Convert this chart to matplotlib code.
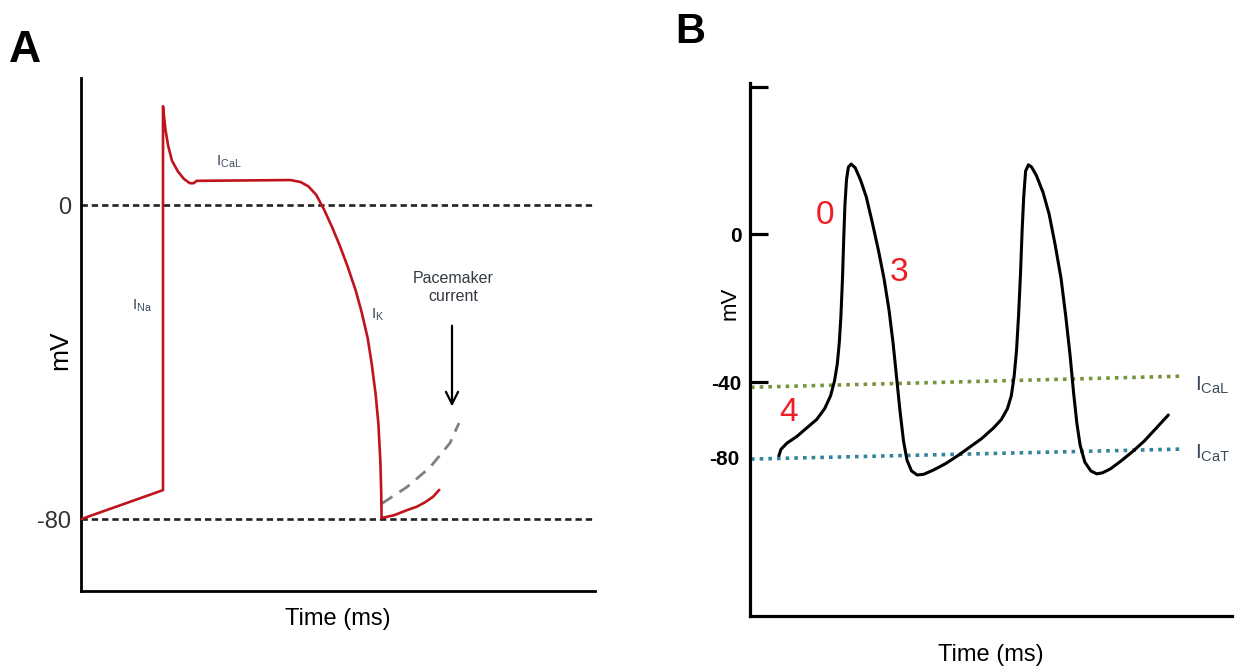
import matplotlib
matplotlib.use("Agg")
import matplotlib.pyplot as plt

plt.rcParams['font.family'] = ['Liberation Sans', 'DejaVu Sans']

# ---- panel A: ventricular action potential (t in ms-like units, v in mV)
a_t = [0, 82, 82, 84.3, 87.1, 91, 96.9, 102.9, 108.8, 112.8, 115.5, 209.6, 219.5, 227.4, 235.3,
       243.2, 251.1, 259.1, 267, 274.9, 280.8, 286.7, 290.7, 294.6, 297.4, 299.4, 300.2, 300.6,
       313, 326, 336, 344, 352, 358]
a_v = [-80, -72.6, 25.2, 19.5, 15.2, 11.3, 8.6, 6.7, 5.6, 5.6, 6.2, 6.4, 5.9, 4.8, 2.6,
       -1.2, -5.6, -10.5, -15.9, -21.9, -27.4, -33.9, -40.4, -48.1, -55.7, -65.5, -73.1, -79.7,
       -79, -77.7, -76.8, -75.7, -74.3, -72.6]
pace_t = [301, 326, 349, 369, 378]
pace_v = [-76, -71.8, -66.8, -60.6, -55.5]
a_ref = [0, -80]
a_ticklabels = ['0', '-80']

# ---- panel B: pacemaker (SA node) action potentials
b_t = [28.9, 30.9, 36.9, 46.8, 56.7, 66.7, 74.6, 80.6, 84.5, 87.3, 89.3, 90.9, 92.5, 93.7, 94.9,
       96.5, 98.4, 101.2, 105.2, 110.4, 116.3, 122.3, 128.5, 134, 139, 143, 146.5, 150, 153.5, 157,
       161.5, 167.2, 173.9, 183.9, 195.8, 207.7, 219.6, 231.5, 243.5, 251.4, 257.4, 261.3, 264.1,
       266.5, 268.5, 270.5, 272.1, 273.7, 275.6, 278.4, 281.6, 286.4, 293.1, 299.1, 305, 311,
       315.8, 320.1, 323.7, 326.9, 330.1, 334.8, 340.8, 346.8, 352.7, 360.7, 370.6, 382.5, 394.4,
       406.4, 418.3]
b_v = [-59.9, -58.2, -56.5, -54.7, -52.4, -50.1, -47.2, -43.7, -39.7, -35.1, -29.3, -22.3, -11.9,
       -1.5, 7.7, 14.7, 18.1, 18.9, 17.9, 14.7, 10.0, 3.1, -4.5, -12.0, -20.5, -29.3, -38.5, -47.8,
       -55.9, -61.1, -64.0, -65.1, -64.9, -63.7, -62.0, -59.9, -57.6, -55.3, -52.4, -50.1, -47.2,
       -43.7, -38.5, -31.6, -22.3, -10.8, 0.8, 10.0, 17.0, 18.7, 18.1, 15.8, 11.2, 5.4, -2.7, -11.9,
       -22.3, -32.8, -43.2, -51.2, -57.0, -61.6, -64.0, -64.8, -64.5, -63.4, -61.4, -58.8, -55.9,
       -52.4, -48.9]
cal_t, cal_v = [1, 432], [-41.4, -38.4]
cat_t, cat_v = [1, 432], [-60.8, -58.1]
b_ticks = [39.7, 0, -40]
b_ticklabels = ['', '0', '-40']
b_m80 = -60.3

W, H = 1243, 671
fig = plt.figure(figsize=(W / 100, H / 100), dpi=100)

def add_ax(l, t, r, b):
    return fig.add_axes([l / W, 1 - b / H, (r - l) / W, (b - t) / H])

red = '#c0141c'
lab = '#3c4a5c'

# ----- A
ax = add_ax(81, 78, 595, 591)
ax.set_xlim(0, 514)
ax.set_ylim(-98.3, 32.4)
for s in ['top', 'right']:
    ax.spines[s].set_visible(False)
for s in ['left', 'bottom']:
    ax.spines[s].set_linewidth(2.0)
ax.set_xticks([])
ax.set_yticks(a_ref)
ax.set_yticklabels(a_ticklabels, fontsize=17, color='#333333')
ax.tick_params(axis='y', length=0, pad=7)
for v in a_ref:
    ax.axhline(v, color='#222222', lw=1.9, ls=(0, (2.4, 1.5)), zorder=1)
ax.plot(a_t, a_v, color=red, lw=1.9, zorder=3, solid_joinstyle='round')
ax.plot(pace_t, pace_v, color='#808080', lw=2.0, ls=(0, (4.5, 3)), zorder=2)
ax.annotate('', xy=(371, -52), xytext=(371, -30),
            arrowprops=dict(arrowstyle='->', color='black', lw=1.6, mutation_scale=22))
ax.text(372, -21, 'Pacemaker\ncurrent', ha='center', va='center', fontsize=11.5,
        color='#333a44', linespacing=1.25)
ax.text(61, -25.7, r'$\mathregular{I_{Na}}$', ha='center', va='center', fontsize=11, color=lab)
ax.text(148, 11, r'$\mathregular{I_{CaL}}$', ha='center', va='center', fontsize=11, color=lab)
ax.text(297, -28, r'$\mathregular{I_{K}}$', ha='center', va='center', fontsize=11, color=lab)
ax.set_xlabel('Time (ms)', fontsize=17, labelpad=12)
ax.set_ylabel('mV', fontsize=19)
ax.yaxis.set_label_coords(-0.018, 0.47)
fig.text(25 / W, 1 - 51 / H, 'A', fontsize=32, fontweight='bold', ha='center', va='center')

# ----- B
bx = add_ax(750, 83, 1232, 616)
bx.set_xlim(0, 482)
bx.set_ylim(-103.2, 40.8)
for s in ['top', 'right']:
    bx.spines[s].set_visible(False)
for s in ['left', 'bottom']:
    bx.spines[s].set_linewidth(2.3)
bx.set_xticks([])
bx.set_yticks(b_ticks)
bx.set_yticklabels(b_ticklabels, fontsize=15, fontweight='bold')
bx.tick_params(axis='y', which='major', direction='in', length=13, width=2.3, pad=6)
bx.set_yticks([b_m80], minor=True)
bx.set_yticklabels(['-80'], minor=True, fontsize=15, fontweight='bold')
bx.tick_params(axis='y', which='minor', length=0, pad=8)
bx.plot(cal_t, cal_v, color='#77933c', lw=2.6, ls=(0, (1, 1.4)), zorder=1)
bx.plot(cat_t, cat_v, color='#31849b', lw=2.6, ls=(0, (1, 1.4)), zorder=1)
bx.plot(b_t, b_v, color='black', lw=2.2, zorder=3, solid_capstyle='round', solid_joinstyle='round')
bx.text(445, -40.8, r'$\mathregular{I_{CaL}}$', ha='left', va='center', fontsize=15, color=lab)
bx.text(445, -59.2, r'$\mathregular{I_{CaT}}$', ha='left', va='center', fontsize=15, color=lab)
bx.text(75, 4.9, '0', color='#ee1c24', fontsize=24, ha='center', va='center')
bx.text(149, -10.5, '3', color='#ee1c24', fontsize=24, ha='center', va='center')
bx.text(39, -48.1, '4', color='#ee1c24', fontsize=24, ha='center', va='center')
bx.set_xlabel('Time (ms)', fontsize=17, labelpad=20)
bx.set_ylabel('mV', fontsize=16)
bx.yaxis.set_label_coords(-0.02, 0.587)
fig.text(690 / W, 1 - 32 / H, 'B', fontsize=30, fontweight='bold', ha='center', va='center')

fig.savefig('out.png', dpi=100)
